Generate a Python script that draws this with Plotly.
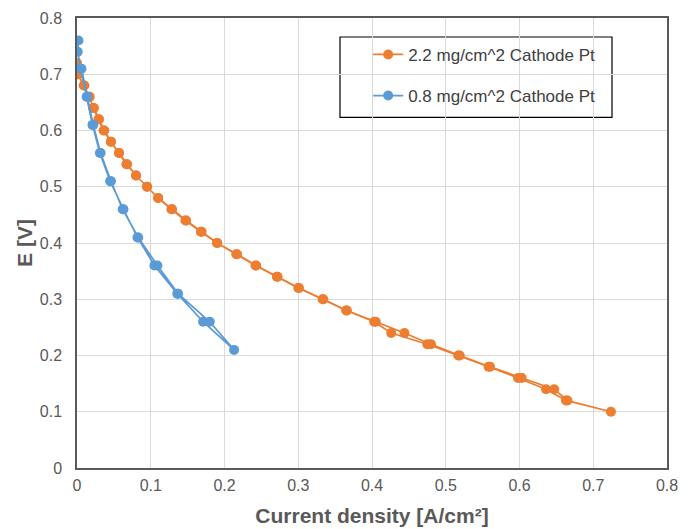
import plotly.graph_objects as go

# Orange series: 2.2 mg/cm^2 cathode Pt (forward then backward sweep)
pt22_current = [0.000, 0.001, 0.009, 0.017, 0.022, 0.029, 0.036, 0.046, 0.057, 0.067,
                0.080, 0.095, 0.110, 0.128, 0.147, 0.168, 0.190, 0.216, 0.242, 0.271,
                0.300, 0.333, 0.365, 0.403, 0.426, 0.475, 0.517, 0.558, 0.598, 0.636,
                0.663, 0.724,
                0.665, 0.647, 0.603, 0.560, 0.519, 0.480, 0.444, 0.405, 0.366, 0.334,
                0.301, 0.272, 0.243, 0.217, 0.190, 0.169, 0.148, 0.129, 0.110, 0.095,
                0.080, 0.068, 0.057, 0.046, 0.037, 0.030, 0.023, 0.017, 0.010, 0.002]
pt22_voltage = [0.72, 0.70, 0.68, 0.66, 0.64, 0.62, 0.60, 0.58, 0.56, 0.54,
                0.52, 0.50, 0.48, 0.46, 0.44, 0.42, 0.40, 0.38, 0.36, 0.34,
                0.32, 0.30, 0.28, 0.26, 0.24, 0.22, 0.20, 0.18, 0.16, 0.14,
                0.12, 0.10,
                0.12, 0.14, 0.16, 0.18, 0.20, 0.22, 0.24, 0.26, 0.28, 0.30,
                0.32, 0.34, 0.36, 0.38, 0.40, 0.42, 0.44, 0.46, 0.48, 0.50,
                0.52, 0.54, 0.56, 0.58, 0.60, 0.62, 0.64, 0.66, 0.68, 0.70]

# Blue series: 0.8 mg/cm^2 cathode Pt (forward then backward sweep)
pt08_current = [0.002, 0.001, 0.005, 0.013, 0.021, 0.031, 0.045, 0.063, 0.082, 0.105,
                0.136, 0.171, 0.213,
                0.180, 0.137, 0.109, 0.083, 0.062, 0.046, 0.032, 0.022, 0.014, 0.006]
pt08_voltage = [0.76, 0.74, 0.71, 0.66, 0.61, 0.56, 0.51, 0.46, 0.41, 0.36,
                0.31, 0.26, 0.21,
                0.26, 0.31, 0.36, 0.41, 0.46, 0.51, 0.56, 0.61, 0.66, 0.71]

series_names = ["2.2 mg/cm^2 Cathode Pt", "0.8 mg/cm^2 Cathode Pt"]
series_colors = ["#ED7D31", "#5B9BD5"]

x_ticks = [0, 0.1, 0.2, 0.3, 0.4, 0.5, 0.6, 0.7, 0.8]
y_ticks = [0, 0.1, 0.2, 0.3, 0.4, 0.5, 0.6, 0.7, 0.8]

regular = "Liberation Sans, Arial, sans-serif"

fig = go.Figure()
for name, xs, ys, col, grp in [
    (series_names[0], pt22_current, pt22_voltage, series_colors[0], "a"),
    (series_names[1], pt08_current, pt08_voltage, series_colors[1], "b"),
]:
    fig.add_trace(go.Scatter(
        x=xs, y=ys, mode="lines+markers", name=name, legendgroup=grp,
        line=dict(color=col, width=1.75),
        marker=dict(color=col, size=10),
    ))

axis_common = dict(
    showgrid=True, gridcolor="#D9D9D9", gridwidth=1,
    showline=True, linecolor="#595959", linewidth=1.5, mirror=True,
    zeroline=False, ticks="", automargin=False,
    tickfont=dict(family=regular, size=16, color="#595959"),
)

fig.update_layout(
    width=691, height=529,
    margin=dict(l=77, r=24, t=18, b=61),
    paper_bgcolor="white", plot_bgcolor="white",
    xaxis=dict(range=[0, 0.8], tickvals=x_ticks, ticktext=[f"{v:g}" for v in x_ticks],
               ticklabelstandoff=2,
               title=dict(text="<b>Current density [A/cm²]</b>", standoff=15,
                          font=dict(family=regular, size=21, color="#595959")),
               **axis_common),
    yaxis=dict(range=[0, 0.8], tickvals=y_ticks, ticktext=[f"{v:g}" for v in y_ticks],
               ticklabelstandoff=10,
               title=dict(text="<b>E [V]</b>", standoff=1,
                          font=dict(family=regular, size=21, color="#595959")),
               **axis_common),
    legend=dict(x=0.4935, y=0.958, xanchor="left", yanchor="top",
                bgcolor="rgba(0,0,0,0)", borderwidth=0,
                tracegroupgap=16,
                font=dict(family=regular, size=17, color="#404040")),
    shapes=[dict(type="rect", xref="paper", yref="paper",
                 x0=(340 - 77) / 590, x1=(612 - 77) / 590,
                 y0=(468.5 - 117.5) / 450.5, y1=(468.5 - 37) / 450.5,
                 line=dict(color="#000000", width=1.2), fillcolor="white", layer="below")],
)

fig.write_html("out.html", config={"displayModeBar": False},
               post_script="document.body.style.margin='0';document.body.style.overflow='hidden';")
